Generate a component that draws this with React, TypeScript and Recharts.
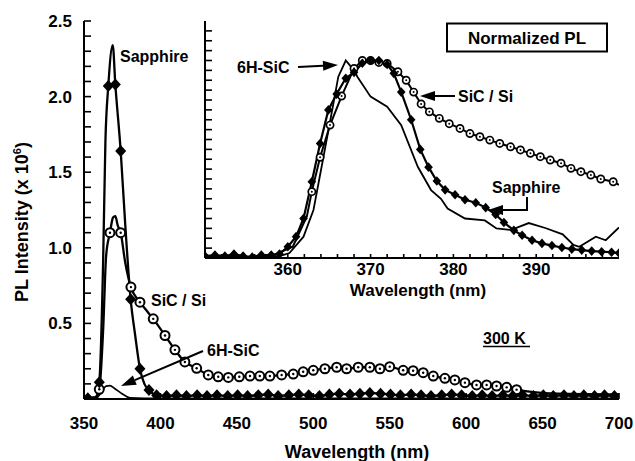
import React from 'react';
import { ComposedChart, Line, XAxis, YAxis } from 'recharts';

const FONT = "'Liberation Sans', Arial, Helvetica, sans-serif";
const INK = '#000';

// ---- main chart: PL intensity (x 10^6) vs wavelength (nm)
const mainXLabels = [350, 400, 450, 500, 550, 600, 650, 700];
const mainYLabels = [0.5, 1.0, 1.5, 2.0, 2.5];
const mainYTicks = [
  0.1, 0.2, 0.3, 0.4, 0.5, 0.6, 0.7, 0.8, 0.9, 1.0,
  1.1, 1.2, 1.3, 1.4, 1.5, 1.6, 1.7, 1.8, 1.9, 2.0,
  2.1, 2.2, 2.3, 2.4, 2.5,
];

// sapphire: points with diamond markers
const sapphireWl = [
  352.5, 360, 365.9, 370.5, 374, 380.5, 386.6, 392.5,
  397.5, 404, 410.5, 417, 424, 430.5, 437, 444, 450.5, 457,
  464, 470.5, 477, 484, 490.5, 497, 504, 510.5, 517, 524,
  530.5, 537, 544, 550.5, 557, 564, 570.5, 577, 584, 590.5,
  597, 604, 610.5, 617, 624, 630.5, 637, 644, 650.5, 657,
  664, 670.5, 677, 684, 690.5, 697,
];
const sapphirePl = [
  0.005, 0.11, 2.07, 2.08, 1.64, 0.66, 0.2, 0.06,
  0.025, 0.02, 0.025, 0.02, 0.025, 0.02, 0.025, 0.02, 0.025, 0.02,
  0.025, 0.03, 0.02, 0.025, 0.03, 0.025, 0.02, 0.03, 0.035, 0.03,
  0.035, 0.04, 0.035, 0.03, 0.025, 0.03, 0.025, 0.02, 0.025, 0.03,
  0.025, 0.02, 0.025, 0.02, 0.025, 0.02, 0.025, 0.02, 0.025, 0.02,
  0.025, 0.02, 0.025, 0.02, 0.025, 0.02,
];
// sapphire: extra curve points (no marker)
const sapphireCurveWl = [350, 358, 362.5, 364, 368.8, 377, 383.5, 389.5];
const sapphireCurvePl = [0.005, 0.01, 0.9, 1.7, 2.34, 1.15, 0.42, 0.1];

// SiC / Si: points with open-circle markers
const sicWl = [
  360, 367, 374, 380.7, 386.6, 395.3, 403, 409.5, 416, 423.7,
  431.3, 437.8, 444.4, 451.6, 458.6, 465, 471.6, 479.3, 486.9, 493.4,
  500, 507.6, 515.3, 521.8, 529.4, 537, 543.6, 550, 558.8, 565.3,
  571.9, 578.5, 586.1, 592.6, 599.2, 606.8, 613.4, 619.9, 626.5, 633,
];
const sicPl = [
  0.064, 1.1, 1.1, 0.74, 0.64, 0.53, 0.42, 0.325, 0.245, 0.203,
  0.159, 0.147, 0.143, 0.147, 0.152, 0.152, 0.152, 0.159, 0.165, 0.18,
  0.19, 0.2, 0.21, 0.2, 0.21, 0.21, 0.2, 0.214, 0.19, 0.187,
  0.174, 0.152, 0.137, 0.126, 0.108, 0.093, 0.093, 0.086, 0.077, 0.062,
];
const sicCurveWl = [350, 357, 362.5, 364.5, 369, 370.5, 372, 377, 390.5, 640, 660, 700];
const sicCurvePl = [0.005, 0.01, 0.45, 0.95, 1.2, 1.21, 1.15, 0.9, 0.59, 0.05, 0.035, 0.03];

// 6H-SiC: plain line
const h6Wl = [350, 358, 361, 364.5, 367, 370, 374.6, 380, 400, 700];
const h6Pl = [0.005, 0.005, 0.04, 0.085, 0.088, 0.07, 0.037, 0.008, 0.004, 0.004];

// ---- inset: normalized PL, 350-400 nm
const insetXLabels = [360, 370, 380, 390];
const insetXTicks = [
  352, 354, 356, 358, 360, 362, 364, 366, 368, 370, 372, 374,
  376, 378, 380, 382, 384, 386, 388, 390, 392, 394, 396, 398,
];
const insetYTicks = [
  0.05, 0.1, 0.15, 0.2, 0.25, 0.3, 0.35, 0.4, 0.45, 0.5, 0.55, 0.6,
  0.65, 0.7, 0.75, 0.8, 0.85, 0.9, 0.95, 1.0, 1.05, 1.1, 1.15,
];

const inSapphireWl = [
  350, 351.2, 352.4, 353.5, 354.6, 355.7, 356.8, 358, 359, 360,
  361, 361.9, 362.9, 363.9, 364.9, 365.9, 367, 368, 369, 370,
  371, 372, 372.8, 373.7, 374.9, 376, 377, 378, 379, 380.2,
  381.4, 382.7, 383.9, 385.1, 386.1, 387.3, 388.3, 389.5, 390.7, 391.9,
  393.1, 394.3, 395.5, 396.7, 397.9, 399.1, 400,
];
const inSapphirePl = [
  0.01, 0.015, 0.01, 0.02, 0.01, 0.005, 0.015, 0.015, 0.02, 0.057,
  0.108, 0.2, 0.386, 0.58, 0.75, 0.83, 0.91, 0.94, 0.986, 1.0,
  1.0, 0.98, 0.935, 0.84, 0.7, 0.55, 0.46, 0.39, 0.345, 0.32,
  0.295, 0.28, 0.255, 0.22, 0.18, 0.14, 0.115, 0.09, 0.074, 0.063,
  0.053, 0.045, 0.04, 0.035, 0.032, 0.029, 0.025,
];

const inSicWl = [
  362.9, 363.9, 365.1, 366.5, 368, 369, 370, 371, 372, 373.3,
  374.3, 375.2, 376.1, 377.1, 378.3, 379.5, 380.8, 382, 383.2, 384.4,
  385.6, 386.9, 388.1, 389.3, 390.5, 391.7, 393, 394.2, 395.4, 396.6,
  397.8, 399.3,
];
const inSicPl = [
  0.336, 0.51, 0.673, 0.82, 0.96, 1.0, 1.0, 0.99, 0.985, 0.943,
  0.9, 0.84, 0.78, 0.74, 0.707, 0.68, 0.656, 0.63, 0.614, 0.597,
  0.58, 0.563, 0.547, 0.53, 0.513, 0.496, 0.48, 0.454, 0.437, 0.42,
  0.4, 0.386,
];
const inSicCurveWl = [358, 360.6, 362.3, 400];
const inSicCurvePl = [0.01, 0.057, 0.21, 0.37];

const in6hWl = [
  350, 355, 359, 360.2, 361.9, 363.1, 364.3, 365.5, 366.1, 367,
  368, 368.4, 370, 372, 373.7, 375.7, 377.3, 378.5, 379.3, 381.4,
  383.8, 385.2, 387, 389.1, 391.1, 393.2, 394.5, 395.2, 397.2, 398.4,
  400,
];
const in6hPl = [
  0.01, 0.005, 0.01, 0.025, 0.108, 0.243, 0.51, 0.78, 0.918, 1.0,
  0.95, 0.918, 0.817, 0.766, 0.673, 0.462, 0.344, 0.3, 0.25, 0.2,
  0.19, 0.15, 0.142, 0.177, 0.152, 0.12, 0.066, 0.057, 0.108, 0.09,
  0.155,
];

type Pt = { x: number; y: number };
const pts = (xs: number[], ys: number[]): Pt[] => xs.map((x, i) => ({ x, y: ys[i] }));
const merged = (a: Pt[], b: Pt[]) => [...a, ...b].sort((p, q) => p.x - q.x);

const sapphireMarks = pts(sapphireWl, sapphirePl);
const sapphireCurve = merged(sapphireMarks, pts(sapphireCurveWl, sapphireCurvePl));
const sicMarks = pts(sicWl, sicPl);
const sicCurve = merged(sicMarks, pts(sicCurveWl, sicCurvePl));
const h6Curve = pts(h6Wl, h6Pl);

const inSapphire = pts(inSapphireWl, inSapphirePl);
const inSicMarks = pts(inSicWl, inSicPl);
const inSicCurve = merged(inSicMarks, pts(inSicCurveWl, inSicCurvePl));
const in6h = pts(in6hWl, in6hPl);

const isIn = (v: number, list: number[]) => list.some((l) => Math.abs(l - v) < 1e-6);

const diamond = (w: number, h: number) => (p: any) => {
  if (p.cx == null || p.cy == null) return <g key={`d${p.index}`} />;
  const { cx, cy } = p;
  return (
    <polygon
      key={`d${p.index}`}
      points={`${cx},${cy - h} ${cx + w},${cy} ${cx},${cy + h} ${cx - w},${cy}`}
      fill={INK}
    />
  );
};

const ring = (r: number, sw: number, dotR: number) => (p: any) => {
  if (p.cx == null || p.cy == null) return <g key={`c${p.index}`} />;
  return (
    <g key={`c${p.index}`}>
      <circle cx={p.cx} cy={p.cy} r={r} fill="#fff" stroke={INK} strokeWidth={sw} />
      <circle cx={p.cx} cy={p.cy} r={dotR} fill={INK} />
    </g>
  );
};

const Arrow = ({ x1, y1, x2, y2 }: { x1: number; y1: number; x2: number; y2: number }) => {
  const a = Math.atan2(y2 - y1, x2 - x1);
  const L = 15;
  const W = 5;
  const bx = x2 - L * Math.cos(a);
  const by = y2 - L * Math.sin(a);
  const nx = -Math.sin(a) * W;
  const ny = Math.cos(a) * W;
  return (
    <g>
      <line x1={x1} y1={y1} x2={bx} y2={by} stroke={INK} strokeWidth={2} />
      <polygon points={`${x2},${y2} ${bx + nx},${by + ny} ${bx - nx},${by - ny}`} fill={INK} />
    </g>
  );
};

const txt = { fontFamily: FONT, fontWeight: 'bold' as const, fill: INK };
const tickFont = { fontFamily: FONT, fontWeight: 'bold', fontSize: 17, fill: INK };
const axisStroke = { stroke: INK, strokeWidth: 2 };
const tickStroke = { stroke: INK, strokeWidth: 1.6 };

export default function App() {
  return (
    <div style={{ position: 'absolute', left: 0, top: 0, width: 635, height: 461, background: '#fff', overflow: 'hidden' }}>
      <div style={{ position: 'absolute', left: 0, top: 0 }}>
        <ComposedChart width={635} height={461} margin={{ top: 21, right: 16, bottom: 22, left: 0 }}>
          <XAxis xAxisId="b" type="number" dataKey="x" domain={[350, 700]} ticks={mainXLabels} interval={0}
            tick={tickFont} tickLine={tickStroke} tickSize={-6} tickMargin={24} height={40}
            axisLine={axisStroke} allowDataOverflow />
          <XAxis xAxisId="t" orientation="top" type="number" dataKey="x" domain={[350, 700]} tick={false}
            tickLine={false} height={0} axisLine={axisStroke} />
          <YAxis yAxisId="l" type="number" dataKey="y" domain={[0, 2.5]} ticks={mainYTicks} interval={0}
            tick={tickFont} tickLine={tickStroke} tickSize={-7} tickMargin={19} width={84}
            tickFormatter={(v: number) => (isIn(v, mainYLabels) ? v.toFixed(1) : '')}
            axisLine={axisStroke} allowDataOverflow />
          <YAxis yAxisId="r" orientation="right" type="number" dataKey="y" domain={[0, 2.5]} tick={false}
            tickLine={false} width={0} axisLine={axisStroke} />

          <Line xAxisId="b" yAxisId="l" data={sicCurve} dataKey="y" type="monotone" stroke={INK} strokeWidth={2.3}
            dot={false} activeDot={false} isAnimationActive={false} />
          <Line xAxisId="b" yAxisId="l" data={h6Curve} dataKey="y" type="monotone" stroke={INK} strokeWidth={1.7}
            dot={false} activeDot={false} isAnimationActive={false} />
          <Line xAxisId="b" yAxisId="l" data={sicMarks} dataKey="y" stroke="none"
            dot={ring(4.5, 2, 1.2)} activeDot={false} isAnimationActive={false} />
          <Line xAxisId="b" yAxisId="l" data={sapphireCurve} dataKey="y" type="monotone" stroke={INK} strokeWidth={2.3}
            dot={false} activeDot={false} isAnimationActive={false} />
          <Line xAxisId="b" yAxisId="l" data={sapphireMarks} dataKey="y" stroke="none"
            dot={diamond(5.5, 6)} activeDot={false} isAnimationActive={false} />
        </ComposedChart>
      </div>

      <div style={{ position: 'absolute', left: 140, top: 0 }}>
        <ComposedChart width={495} height={320} margin={{ top: 21, right: 16, bottom: 22, left: 0 }}>
          <XAxis xAxisId="b" type="number" dataKey="x" domain={[350, 400]} ticks={insetXTicks} interval={0}
            tick={tickFont} tickLine={tickStroke} tickSize={-4} tickMargin={9} height={40}
            tickFormatter={(v: number) => (isIn(v, insetXLabels) ? String(v) : '')}
            axisLine={axisStroke} allowDataOverflow />
          <YAxis yAxisId="l" type="number" dataKey="y" domain={[0, 1.2]} ticks={insetYTicks} interval={0}
            tick={tickFont} tickLine={tickStroke} tickSize={-7} tickMargin={0} width={65}
            tickFormatter={() => ''} axisLine={axisStroke} allowDataOverflow />

          <Line xAxisId="b" yAxisId="l" data={inSicCurve} dataKey="y" type="linear" stroke={INK} strokeWidth={2}
            dot={false} activeDot={false} isAnimationActive={false} />
          <Line xAxisId="b" yAxisId="l" data={inSicMarks} dataKey="y" stroke="none"
            dot={ring(3.6, 1.7, 1)} activeDot={false} isAnimationActive={false} />
          <Line xAxisId="b" yAxisId="l" data={inSapphire} dataKey="y" type="linear" stroke={INK} strokeWidth={2.2}
            dot={diamond(4.3, 4.8)} activeDot={false} isAnimationActive={false} />
          <Line xAxisId="b" yAxisId="l" data={in6h} dataKey="y" type="linear" stroke={INK} strokeWidth={1.8}
            dot={false} activeDot={false} isAnimationActive={false} />
        </ComposedChart>
      </div>

      <svg width={635} height={461} style={{ position: 'absolute', left: 0, top: 0, pointerEvents: 'none' }}>
        {/* axis titles */}
        <text transform="translate(28,222) rotate(-90)" textAnchor="middle" fontSize={18} {...txt}>
          PL Intensity (x 10<tspan dy={-7} fontSize={11}>6</tspan><tspan dy={7}>)</tspan>
        </text>
        <text x={357} y={452} dy="0.35em" textAnchor="middle" fontSize={18} {...txt}>Wavelength (nm)</text>
        <text x={418} y={290} dy="0.35em" textAnchor="middle" fontSize={17} {...txt}>Wavelength (nm)</text>

        {/* main annotations */}
        <text x={120} y={56} dy="0.35em" fontSize={16} {...txt}>Sapphire</text>
        <text x={151} y={300} dy="0.35em" fontSize={16} {...txt}>SiC / Si</text>
        <text x={207} y={350} dy="0.35em" fontSize={16} {...txt}>6H-SiC</text>
        <Arrow x1={203} y1={351} x2={121} y2={386} />
        <text x={483} y={338} dy="0.35em" fontSize={16} {...txt}>300 K</text>
        <line x1={483} x2={530} y1={346.5} y2={346.5} stroke={INK} strokeWidth={1.5} />

        {/* inset annotations */}
        <rect x={447} y={23.5} width={160} height={28} fill="#fff" stroke={INK} strokeWidth={2} />
        <text x={527} y={38} dy="0.35em" textAnchor="middle" fontSize={17} {...txt}>Normalized PL</text>
        <text x={237} y={67} dy="0.35em" fontSize={16} {...txt}>6H-SiC</text>
        <Arrow x1={298} y1={67} x2={338} y2={65} />
        <text x={458} y={96} dy="0.35em" fontSize={16} {...txt}>SiC / Si</text>
        <Arrow x1={455} y1={96} x2={420} y2={96} />
        <text x={492} y={187} dy="0.35em" fontSize={16} {...txt}>Sapphire</text>
        <line x1={527} y1={197} x2={527} y2={210} stroke={INK} strokeWidth={2} />
        <Arrow x1={528} y1={210} x2={488} y2={210} />
      </svg>
    </div>
  );
}
